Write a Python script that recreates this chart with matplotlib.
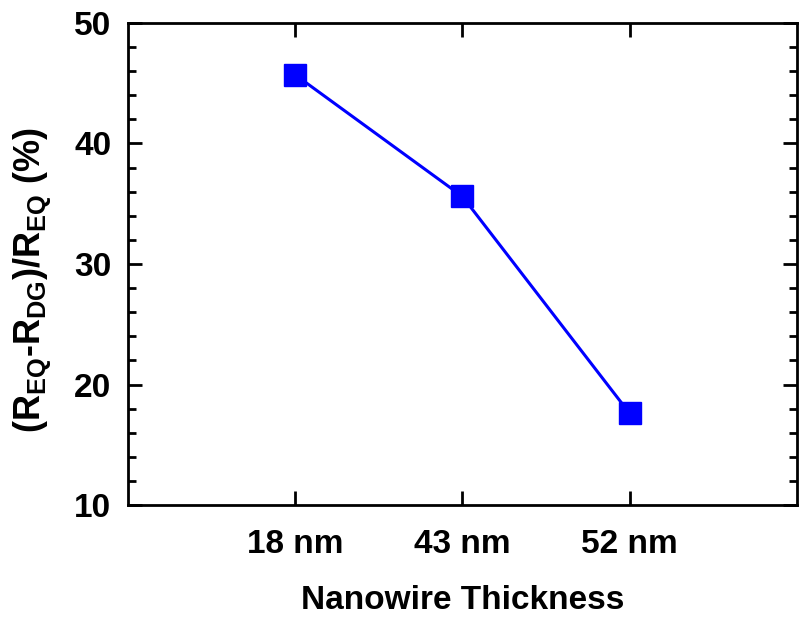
import matplotlib
matplotlib.use("Agg")
import matplotlib.pyplot as plt
from matplotlib.ticker import MultipleLocator

categories = ["18 nm", "43 nm", "52 nm"]
values = [45.7, 35.6, 17.6]

plt.rcParams['font.family'] = 'Liberation Sans'
plt.rcParams['font.weight'] = 'bold'
plt.rcParams['mathtext.fontset'] = 'custom'
plt.rcParams['mathtext.rm'] = 'Liberation Sans:bold'
plt.rcParams['mathtext.bf'] = 'Liberation Sans:bold'
plt.rcParams['mathtext.it'] = 'Liberation Sans:bold'

fig = plt.figure(figsize=(7.99, 6.19), dpi=100)
ax = fig.add_axes([0.160, 0.184, 0.8375, 0.779])

x = list(range(1, len(categories) + 1))
ax.plot(x, values, color='#0000ff', lw=2.2, marker='s', markersize=15.5,
        markerfacecolor='#0000ff', markeredgecolor='#0000ff')

ax.set_xlim(0, 4)
ax.set_ylim(10, 50)
ax.set_xticks(x)
ax.set_xticklabels(categories)
ax.yaxis.set_major_locator(MultipleLocator(10))
ax.yaxis.set_minor_locator(MultipleLocator(2))

for s in ax.spines.values():
    s.set_linewidth(2)
ax.tick_params(axis='both', which='major', direction='in', length=10, width=2,
               labelsize=24, top=True, right=True)
ax.tick_params(axis='y', which='minor', direction='in', length=5.5, width=2,
               right=True, left=True)
ax.tick_params(axis='y', which='major', pad=12)
ax.tick_params(axis='x', which='major', pad=17)

ax.set_xlabel('Nanowire Thickness', fontsize=24, fontweight='bold', labelpad=18)
ax.set_ylabel(r'$\mathbf{(R_{EQ}\text{-}R_{DG})/R_{EQ}}$ (%)', fontsize=26,
              fontweight='bold')
ax.yaxis.set_label_coords(-0.112, 0.467)

fig.savefig('out.png', dpi=100)
